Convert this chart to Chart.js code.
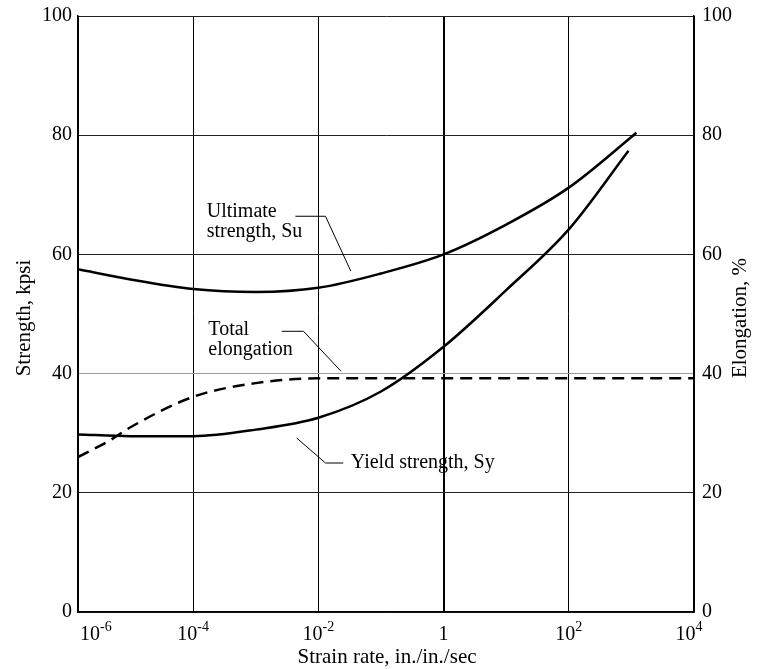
<!DOCTYPE html>
<html lang="en">
<head>
<meta charset="UTF-8"/>
<title>Strength vs strain rate</title>
<script src="https://cdn.jsdelivr.net/npm/chart.js@4.4.1/dist/chart.umd.min.js"></script>
<style>
  html, body { margin: 0; padding: 0; background: #fff; }
  #box { width: 760px; height: 669px; }
</style>
</head>
<body>
<div id="box"><canvas id="chart"></canvas></div>
<script>
// values (strain rate in in./in./sec)
const suRate = [1.45e-6, 1e-5, 1e-4, 1e-3, 1e-2, 1e-1, 1, 10, 100, 1000, 1200];
const suKpsi = [57.5, 55.8, 54.2, 53.7, 54.4, 56.8, 60.0, 65.0, 71.2, 79.7, 80.4];

const syRate = [1.45e-6, 1e-5, 1e-4, 1e-3, 1e-2, 1e-1, 1, 10, 100, 900];
const syKpsi = [29.8, 29.5, 29.5, 30.6, 32.6, 37.0, 44.5, 54.0, 64.2, 77.4];

const elRate = [1.45e-6, 4.7e-6, 1e-5, 1e-4, 1e-3, 1e-2, 1, 100, 1e4];
const elPct  = [26.0, 28.8, 31.0, 36.1, 38.4, 39.2, 39.2, 39.2, 39.2];

const xTicks = [1.45e-6, 1e-4, 1e-2, 1, 1e2, 1e4];
const xTickBase = ['10', '10', '10', '1', '10', '10'];
const xTickExp  = ['-6', '-4', '-2', '', '2', '4'];
const yTicks = [0, 20, 40, 60, 80, 100];

const FONT = '"Liberation Serif", "Times New Roman", serif';

// callout labels, in data coords (rate, kpsi)
const notes = [
  { lines: ['Ultimate', 'strength, Su'], at: [1.65e-4, 67.2], lead: [[4.3e-3, 66.4], [1.3e-2, 66.4], [3.3e-2, 57.2]] },
  { lines: ['Total', 'elongation'], at: [1.75e-4, 47.4], lead: [[2.6e-3, 47.1], [5.8e-3, 47.1], [2.3e-2, 40.4]] },
  { lines: ['Yield strength, Sy'], at: [3.3e-2, 25.0], lead: [[4.5e-3, 29.2], [1.3e-2, 25.0], [2.5e-2, 25.0]] }
];

const pts = (xs, ys) => xs.map((x, i) => ({ x: x, y: ys[i] }));

function fixSide(w) {
  return s => { s.width = w; s.paddingTop = 0; s.paddingBottom = 0; };
}

const decor = {
  id: 'decor',
  afterDraw(chart) {
    const ctx = chart.ctx, xs = chart.scales.x, ys = chart.scales.y;
    const area = chart.chartArea;
    ctx.save();
    ctx.fillStyle = '#000';
    ctx.strokeStyle = '#000';

    // x tick labels with superscripts
    xTicks.forEach((v, i) => {
      const px = xs.getPixelForValue(v);
      ctx.font = '20px ' + FONT;
      const bw = ctx.measureText(xTickBase[i]).width;
      ctx.font = '14px ' + FONT;
      const ew = xTickExp[i] ? ctx.measureText(xTickExp[i]).width : 0;
      let left = px - (bw + ew) / 2;
      if (i === 0) left = area.left + 2;
      if (i === xTicks.length - 1) left = px - (bw + ew) / 2 - 5;
      ctx.textAlign = 'left';
      ctx.textBaseline = 'alphabetic';
      ctx.font = '20px ' + FONT;
      ctx.fillText(xTickBase[i], left, area.bottom + 28);
      if (xTickExp[i]) {
        ctx.font = '14px ' + FONT;
        ctx.fillText(xTickExp[i], left + bw, area.bottom + 19);
      }
    });

    // axis titles
    ctx.font = '21px ' + FONT;
    ctx.textAlign = 'center';
    ctx.textBaseline = 'middle';
    ctx.fillText('Strain rate, in./in./sec', 387, 657);
    ctx.save();
    ctx.translate(24, 318);
    ctx.rotate(-Math.PI / 2);
    ctx.fillText('Strength, kpsi', 0, 0);
    ctx.restore();
    ctx.save();
    ctx.translate(740, 318);
    ctx.rotate(-Math.PI / 2);
    ctx.fillText('Elongation, %', 0, 0);
    ctx.restore();

    // callouts
    ctx.font = '20px ' + FONT;
    ctx.lineWidth = 1;
    ctx.textAlign = 'left';
    notes.forEach(n => {
      const tx = xs.getPixelForValue(n.at[0]);
      const ty = ys.getPixelForValue(n.at[1]);
      n.lines.forEach((t, k) => ctx.fillText(t, tx, ty + k * 20));
      ctx.beginPath();
      n.lead.forEach((p, k) => {
        const px = xs.getPixelForValue(p[0]), py = ys.getPixelForValue(p[1]);
        if (k === 0) ctx.moveTo(px, py); else ctx.lineTo(px, py);
      });
      ctx.stroke();
    });
    ctx.restore();
  }
};

new Chart(document.getElementById('chart'), {
  type: 'line',
  data: {
    datasets: [
      { label: 'Ultimate strength, Su', data: pts(suRate, suKpsi), yAxisID: 'y',
        borderColor: '#000', borderWidth: 2.5, pointRadius: 0, cubicInterpolationMode: 'monotone' },
      { label: 'Yield strength, Sy', data: pts(syRate, syKpsi), yAxisID: 'y',
        borderColor: '#000', borderWidth: 2.5, pointRadius: 0, cubicInterpolationMode: 'monotone' },
      { label: 'Total elongation', data: pts(elRate, elPct), yAxisID: 'y2',
        borderColor: '#000', borderWidth: 2.5, borderDash: [12, 7], pointRadius: 0, cubicInterpolationMode: 'monotone' }
    ]
  },
  options: {
    responsive: true,
    maintainAspectRatio: false,
    animation: false,
    layout: { padding: { top: 16, left: 0, right: 0, bottom: 0 } },
    plugins: { legend: { display: false }, tooltip: { enabled: false } },
    scales: {
      x: {
        type: 'logarithmic',
        min: xTicks[0],
        max: xTicks[xTicks.length - 1],
        afterBuildTicks: s => { s.ticks = xTicks.map(v => ({ value: v })); },
        afterFit: s => { s.height = 57; s.paddingLeft = 0; s.paddingRight = 0; },
        ticks: { callback: () => '', autoSkip: false },
        grid: {
          drawTicks: false,
          color: '#000',
          lineWidth: c => (c.tick && c.tick.value === 1 ? 2 : 1)
        },
        border: { color: '#000', width: 1.5 }
      },
      y: {
        position: 'left',
        min: 0, max: 100,
        afterBuildTicks: s => { s.ticks = yTicks.map(v => ({ value: v })); },
        afterFit: fixSide(78),
        ticks: { color: '#000', padding: 6, font: { family: FONT, size: 20 } },
        grid: {
          drawTicks: false,
          color: c => (c.tick && c.tick.value === 40 ? '#9a9a9a' : '#222'),
          lineWidth: 1
        },
        border: { color: '#000', width: 1.5 }
      },
      y2: {
        position: 'right',
        min: 0, max: 100,
        afterBuildTicks: s => { s.ticks = yTicks.map(v => ({ value: v })); },
        afterFit: fixSide(66),
        ticks: { color: '#000', padding: 8, font: { family: FONT, size: 20 } },
        grid: { display: false, drawTicks: false },
        border: { color: '#000', width: 1.5 }
      }
    }
  },
  plugins: [decor]
});
</script>
</body>
</html>
